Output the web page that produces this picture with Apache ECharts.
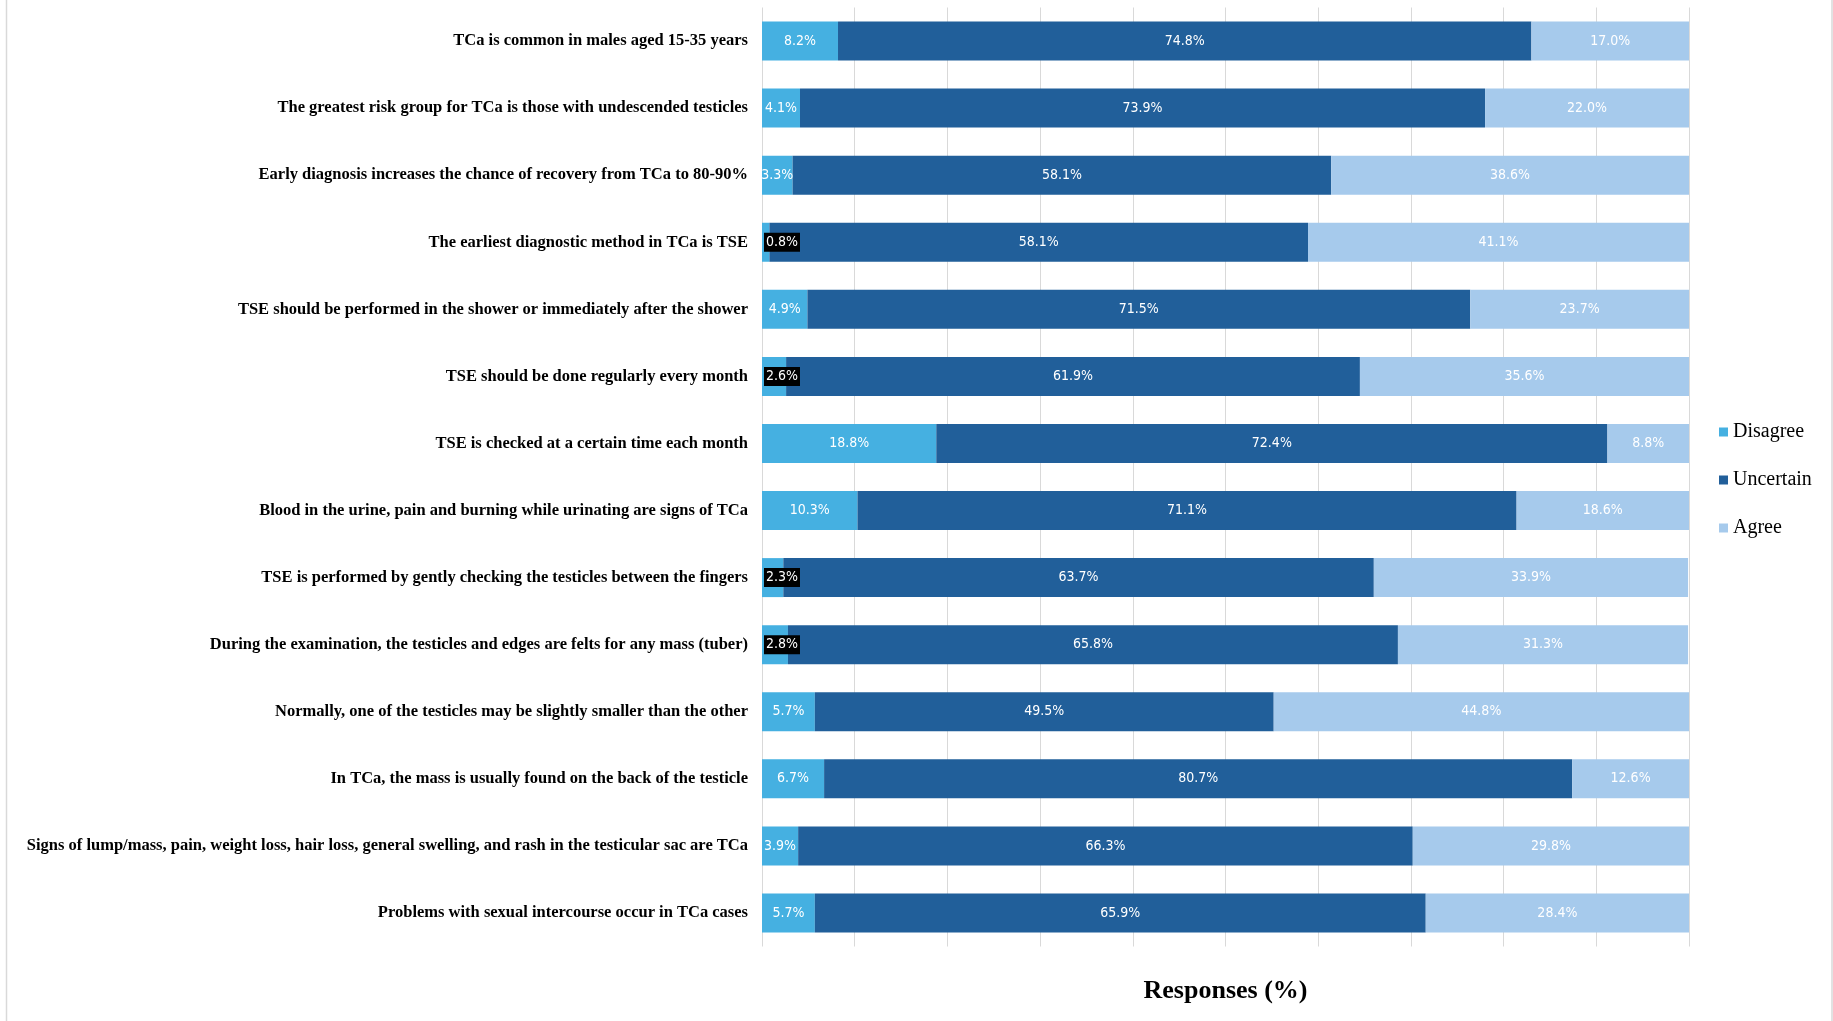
<!DOCTYPE html>
<html>
<head>
<meta charset="utf-8">
<script src="https://cdn.jsdelivr.net/npm/echarts@6/dist/echarts.min.js"></script>
<style>
html,body{margin:0;padding:0;background:#fff;}
#chart{width:1833px;height:1021px;}
</style>
</head>
<body>
<div id="chart"></div>
<script>
const categories = [
  "TCa is common in males aged 15-35 years",
  "The greatest risk group for TCa is those with undescended testicles",
  "Early diagnosis increases the chance of recovery from TCa to 80-90%",
  "The earliest diagnostic method in TCa is TSE",
  "TSE should be performed in the shower or immediately after the shower",
  "TSE should be done regularly every month",
  "TSE is checked at a certain time each month",
  "Blood in the urine, pain and burning while urinating are signs of TCa",
  "TSE is performed by gently checking the testicles between the fingers",
  "During the examination, the testicles and edges are felts for any mass (tuber)",
  "Normally, one of the testicles may be slightly smaller than the other",
  "In TCa, the mass is usually found on the back of the testicle",
  "Signs of lump/mass, pain, weight loss, hair loss, general swelling, and rash in the testicular sac are TCa",
  "Problems with sexual intercourse occur in TCa cases"
];
const disagree = [8.2, 4.1, 3.3, 0.8, 4.9, 2.6, 18.8, 10.3, 2.3, 2.8, 5.7, 6.7, 3.9, 5.7];
const uncertain = [74.8, 73.9, 58.1, 58.1, 71.5, 61.9, 72.4, 71.1, 63.7, 65.8, 49.5, 80.7, 66.3, 65.9];
const agree = [17.0, 22.0, 38.6, 41.1, 23.7, 35.6, 8.8, 18.6, 33.9, 31.3, 44.8, 12.6, 29.8, 28.4];
const seriesNames = ["Disagree", "Uncertain", "Agree"];
const colors = ["#45B0E1", "#215F9A", "#A6CAEC"];

const chart = echarts.init(document.getElementById('chart'));
const labelBase = {
  show: true,
  position: 'inside',
  color: '#fff',
  fontFamily: 'Liberation Sans Narrow, DejaVu Sans Condensed, sans-serif',
  fontSize: 14,
  formatter: p => p.value.toFixed(1) + '%'
};
const disagreeData = disagree.map(v => v < 3 ? {
  value: v,
  label: { position: 'insideLeft', distance: 2, backgroundColor: '#000', padding: [3, 2, 2, 2] }
} : v);

function mk(name, data, color) {
  return {
    name, type: 'bar', stack: 'all', data,
    barWidth: 39,
    itemStyle: { color },
    label: labelBase,
    emphasis: { disabled: true }
  };
}

chart.setOption({
  animation: false,
  backgroundColor: '#fff',
  grid: { left: 762, right: 144, top: 7.5, bottom: 74.5, containLabel: false },
  legend: {
    orient: 'vertical',
    left: 1714, top: 417,
    itemWidth: 9, itemHeight: 9,
    itemGap: 28,
    icon: 'rect',
    textStyle: { fontFamily: 'Liberation Serif, serif', fontSize: 20, color: '#000' },
    data: seriesNames
  },
  xAxis: {
    type: 'value', min: 0, max: 100, interval: 10,
    axisLabel: { show: false },
    axisLine: { show: false },
    axisTick: { show: false },
    splitLine: { show: true, lineStyle: { color: '#d9d9d9', width: 1 } },
    name: 'Responses (%)',
    nameLocation: 'middle',
    nameGap: 32,
    nameTextStyle: { fontFamily: 'Liberation Serif, serif', fontWeight: 'bold', fontSize: 26, color: '#000' }
  },
  yAxis: {
    type: 'category', inverse: true, data: categories,
    axisLine: { show: false },
    axisTick: { show: false },
    axisLabel: { margin: 14, fontFamily: 'Liberation Serif, serif', fontWeight: 'bold', fontSize: 16.5, color: '#000' }
  },
  graphic: [
    { type: 'line', shape: { x1: 6.5, y1: 0, x2: 6.5, y2: 1021 }, style: { stroke: '#d9d9d9', lineWidth: 1.5 } },
    { type: 'line', shape: { x1: 1832, y1: 0, x2: 1832, y2: 1021 }, style: { stroke: '#d9d9d9', lineWidth: 1.5 } }
  ],
  series: [
    mk(seriesNames[0], disagreeData, colors[0]),
    mk(seriesNames[1], uncertain, colors[1]),
    mk(seriesNames[2], agree, colors[2])
  ]
});
</script>
</body>
</html>
